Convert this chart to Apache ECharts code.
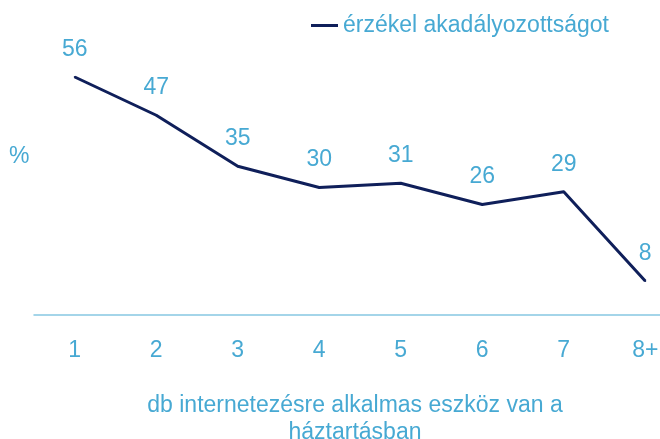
<!DOCTYPE html>
<html>
<head>
<meta charset="utf-8">
<script src="https://cdn.jsdelivr.net/npm/echarts@6/dist/echarts.min.js"></script>
<style>
  html, body { margin: 0; padding: 0; background: #fff; }
  #chart { width: 660px; height: 439px; }
</style>
</head>
<body>
<div id="chart"></div>
<script>
const categories = ['1', '2', '3', '4', '5', '6', '7', '8+'];
const values = [56, 47, 35, 30, 31, 26, 29, 8];
const seriesName = 'érzékel akadályozottságot';

const labelColor = '#47a9d3';
const lineColor = '#0f1f5a';
const font = 'Liberation Sans, Arial, sans-serif';

const chart = echarts.init(document.getElementById('chart'));
chart.setOption({
  backgroundColor: '#fff',
  animation: false,
  grid: { left: 34, right: -26, top: 60, bottom: 124, outerBoundsMode: 'none', containLabel: false },
  legend: {
    data: [seriesName],
    left: 306, top: 9,
    itemWidth: 27, itemHeight: 3, itemGap: 7,
    icon: 'rect',
    textStyle: { color: labelColor, fontSize: 23, fontFamily: font }
  },
  graphic: [{
    type: 'text', left: 9, top: 145,
    style: { text: '%', fill: labelColor, fontSize: 23, fontFamily: font }
  }],
  xAxis: {
    type: 'category',
    data: categories,
    boundaryGap: true,
    axisLine: { lineStyle: { color: '#86c7e2', width: 1.5 } },
    axisTick: { show: false },
    axisLabel: { color: labelColor, fontSize: 23, fontFamily: font, margin: 24 },
    name: 'db internetezésre alkalmas eszköz van a\nháztartásban',
    nameLocation: 'middle',
    nameGap: 77,
    nameTextStyle: { color: labelColor, fontSize: 23, fontFamily: font, lineHeight: 27,
      padding: [0, 10, 0, 0] }
  },
  yAxis: {
    type: 'value', min: 0, max: 60,
    show: false
  },
  series: [{
    name: seriesName,
    type: 'line',
    data: values,
    symbol: 'circle',
    symbolSize: 2,
    lineStyle: { color: lineColor, width: 3 },
    itemStyle: { color: lineColor },
    label: {
      show: true, position: 'top', distance: 15,
      color: labelColor, fontSize: 23, fontFamily: font
    }
  }]
});
</script>
</body>
</html>
